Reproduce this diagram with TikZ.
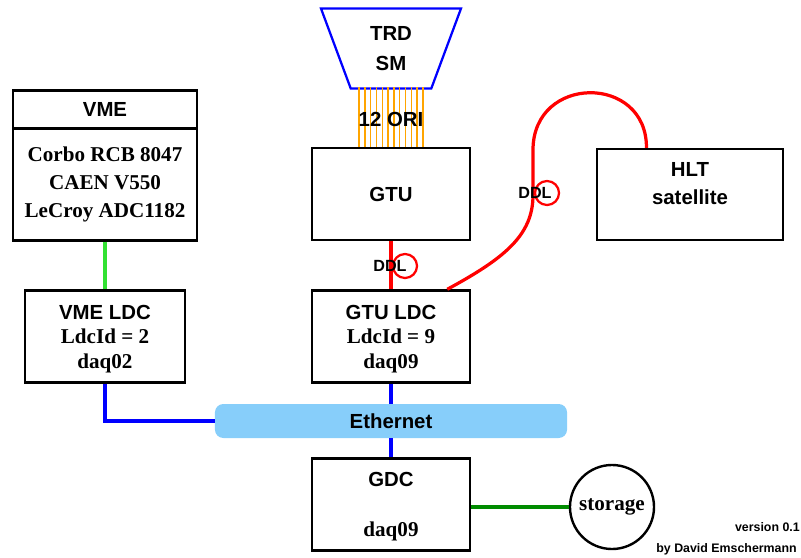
\documentclass[tikz,border=0pt]{standalone}
\usepackage{fontspec}
\setmainfont{Liberation Serif}
\setsansfont{Liberation Sans}
\usetikzlibrary{positioning,shapes.geometric,calc}

\definecolor{ethblue}{RGB}{135,206,250}
\definecolor{lanblue}{RGB}{0,0,255}
\definecolor{ddlred}{RGB}{255,0,0}
\definecolor{orifibre}{RGB}{255,165,0}
\definecolor{vmegreen}{RGB}{50,225,50}
\definecolor{diskgreen}{RGB}{0,140,0}

\newcommand{\hd}[1]{{\sffamily\fontsize{14.5}{17.4}\selectfont #1}}

\tikzset{
	unit/.style={draw, line width=1.7pt, inner sep=0pt, align=center, font=\rmfamily\bfseries\fontsize{15}{17.4}\selectfont},
	ldc/.style={unit, minimum width=3.95cm, minimum height=2.3cm, text depth=0pt},
	sanstxt/.style={font=\sffamily\bfseries\fontsize{14.5}{19.8}\selectfont, align=center, inner sep=0pt},
	trdbox/.style={trapezium, draw=lanblue, line width=1.6pt, shape border rotate=180, trapezium left angle=70.7, trapezium right angle=70.7, trapezium stretches=true, minimum width=3.5cm, minimum height=2cm, inner sep=0pt, align=center, font=\sffamily\bfseries\fontsize{14.5}{21.3}\selectfont},
	ddlcirc/.style={circle, draw=ddlred, line width=1.6pt, minimum size=0.6cm, inner sep=0pt},
	ddltxt/.style={font=\sffamily\bfseries\fontsize{11.5}{12}\selectfont, inner sep=0pt},
	ddl/.style={draw=ddlred, line width=2.3pt},
	lan/.style={draw=lanblue, line width=2.4pt},
	ori/.style={draw=orifibre, line width=1pt},
	small/.style={font=\sffamily\bfseries\fontsize{8.8}{9}\selectfont, inner sep=0pt, anchor=east}
}

\begin{document}
\begin{tikzpicture}[x=0.025cm, y=-0.025cm]
	\useasboundingbox (0,0) rectangle (801,558);

	% detector side
	\node[trdbox] (trd) at (391,48.5) {TRD\\SM};
	\node[ldc] (gtu) at (391,194) {\hd{GTU}};
	\foreach \i in {0,...,11}
		\draw[ori] ($(gtu.north)+(-32+5.8*\i,0)$) -- ++(0,-60);
	\node[sanstxt] (oritxt) at (391,119) {12 ORI};

	\node[unit, minimum width=4.65cm, minimum height=2.275cm] (hlt) at (690,194.5) {};
	\node[sanstxt] (hlttxt) at (690,184) {HLT\\satellite};

	% VME crate
	\node[unit, minimum width=4.6cm, minimum height=0.95cm] (vmehead) at (105,109.5) {\hd{VME}};
	\node[unit, minimum width=4.6cm, minimum height=2.8cm, font=\rmfamily\bfseries\fontsize{15}{20.2}\selectfont, below=-1.7pt of vmehead] (vmebody) {Corbo RCB 8047\\CAEN V550\\LeCroy ADC1182};

	% LDCs
	\node[ldc, minimum width=4cm] (vmeldc) at (105,336.5) {\hd{VME LDC}\\LdcId = 2\\daq02};
	\node[ldc] (gtuldc) at (391,336.5) {\hd{GTU LDC}\\LdcId = 9\\daq09};

	\node[draw=none, fill=ethblue, rounded corners=6pt, minimum width=8.8cm, minimum height=0.85cm, sanstxt] (eth) at (391,421) {Ethernet};

	\node[ldc] (gdc) at (391,504.5) {\hd{GDC}\\[18.1pt]daq09};
	\node[unit, circle, minimum size=2.1cm] (disk) at (612,507) {storage};

	% links
	\draw[vmegreen, line width=2.4pt] (vmebody.south) -- (vmeldc.north);
	\draw[lan] (vmeldc.south) |- (eth.west);
	\draw[lan] (gtuldc.south) -- (eth.north);
	\draw[lan] (eth.south) -- (gdc.north);
	\draw[diskgreen, line width=2.4pt] (disk.west -| gdc.east) -- (disk.west);

	\draw[ddl] (gtu.south) -- (gtuldc.north);
	\node[ddlcirc] (ddlloopa) at (405,266) {};
	\node[ddltxt] (ddla) at (390,266) {DDL};

	\draw[ddl] (gtuldc.40) .. controls (505,258) and (533,235) .. (533,195) -- (533,150) .. controls (533,74) and (647,74) .. (hlt.133);
	\node[ddlcirc] (ddlloopb) at (547,193) {};
	\node[ddltxt] (ddlb) at (535,193) {DDL};

	\node[small] (version) at (800,527) {version 0.1};
	\node[small] (author) at (797,549) {by David Emschermann};
\end{tikzpicture}
\end{document}
